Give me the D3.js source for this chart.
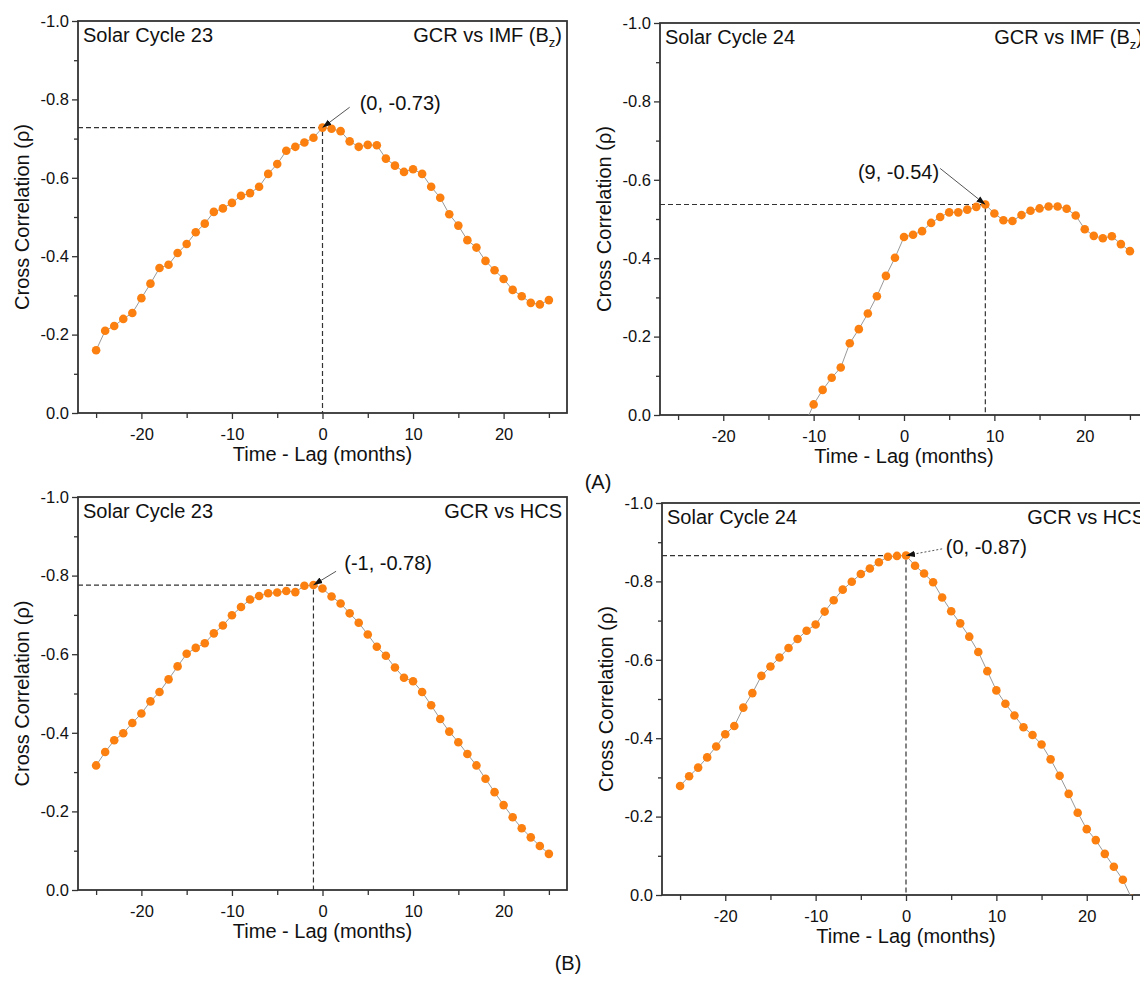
<!DOCTYPE html>
<html>
<head>
<meta charset="utf-8">
<script src="https://cdn.jsdelivr.net/npm/d3@7"></script>
<style>
  body { margin: 0; background: #fff; }
  svg text { font-family: "Liberation Sans", Arial, sans-serif; fill: #111; }
</style>
</head>
<body>
<svg id="chart" width="1140" height="982"></svg>
<script>
// Time lag (months)
let lagsFull = [-25, -24, -23, -22, -21, -20, -19, -18, -17, -16, -15, -14, -13, -12, -11, -10, -9, -8, -7, -6, -5, -4, -3, -2, -1,
  0, 1, 2, 3, 4, 5, 6, 7, 8, 9, 10, 11, 12, 13, 14, 15, 16, 17, 18, 19, 20, 21, 22, 23, 24, 25];
// cycle 24 vs IMF: everything left of -10 sits below 0 and is cut off
let lagsImf24 = [-11, -10, -9, -8, -7, -6, -5, -4, -3, -2, -1,
  0, 1, 2, 3, 4, 5, 6, 7, 8, 9, 10, 11, 12, 13, 14, 15, 16, 17, 18, 19, 20, 21, 22, 23, 24, 25];

// Cross correlation (rho)
let rhoImf23 = [-0.160, -0.210, -0.222, -0.240, -0.255, -0.293, -0.330, -0.370, -0.378, -0.408, -0.431, -0.461, -0.483,
  -0.513, -0.522, -0.536, -0.554, -0.561, -0.577, -0.610, -0.635, -0.669, -0.679, -0.690, -0.702,
  -0.728, -0.725, -0.719, -0.693, -0.679, -0.684, -0.683, -0.649, -0.631, -0.615, -0.622, -0.610, -0.577,
  -0.549, -0.507, -0.478, -0.441, -0.422, -0.388, -0.364, -0.342, -0.314, -0.298, -0.281, -0.277, -0.288];
let rhoImf24 = [0.025, -0.027, -0.064, -0.095, -0.121, -0.183, -0.219, -0.259, -0.303, -0.355, -0.401,
  -0.454, -0.460, -0.469, -0.490, -0.505, -0.517, -0.517, -0.524, -0.531, -0.537, -0.514, -0.497, -0.495,
  -0.510, -0.521, -0.527, -0.532, -0.532, -0.526, -0.509, -0.474, -0.457, -0.451, -0.456, -0.436, -0.418];
let rhoHcs23 = [-0.317, -0.351, -0.381, -0.399, -0.425, -0.449, -0.480, -0.504, -0.536, -0.569, -0.601, -0.616, -0.628,
  -0.653, -0.673, -0.699, -0.720, -0.739, -0.748, -0.755, -0.757, -0.761, -0.758, -0.774, -0.776,
  -0.767, -0.747, -0.729, -0.704, -0.680, -0.650, -0.619, -0.596, -0.566, -0.540, -0.531, -0.504, -0.470,
  -0.435, -0.403, -0.376, -0.346, -0.317, -0.283, -0.249, -0.216, -0.185, -0.157, -0.134, -0.112, -0.092];
let rhoHcs24 = [-0.278, -0.303, -0.325, -0.351, -0.379, -0.410, -0.431, -0.478, -0.515, -0.559, -0.583, -0.606, -0.630,
  -0.653, -0.674, -0.690, -0.723, -0.752, -0.779, -0.799, -0.819, -0.833, -0.849, -0.863, -0.865,
  -0.866, -0.840, -0.820, -0.798, -0.759, -0.724, -0.693, -0.659, -0.620, -0.571, -0.522, -0.488, -0.458,
  -0.428, -0.408, -0.384, -0.346, -0.304, -0.258, -0.210, -0.168, -0.140, -0.105, -0.072, -0.039, 0.010];

// Peaks and their labels
let peakLags = [0, 9, -1, 0];
let peakLabels = ["(0, -0.73)", "(9, -0.54)", "(-1, -0.78)", "(0, -0.87)"];

let cycleLabels = ["Solar Cycle 23", "Solar Cycle 24", "Solar Cycle 23", "Solar Cycle 24"];
let pairLabels = ["IMF", "IMF", "HCS", "HCS"];

// Ticks
let lagMajor = [-20, -10, 0, 10, 20];
let lagMinor = [-25, -15, -5, 5, 15, 25];
let rhoMajor = [0, -0.2, -0.4, -0.6, -0.8, -1.0];
let rhoMinor = [-0.1, -0.3, -0.5, -0.7, -0.9];

let lagSeries = [lagsFull, lagsImf24, lagsFull, lagsFull];
let rhoSeries = [rhoImf23, rhoImf24, rhoHcs23, rhoHcs24];

// layout of each panel (px) and where its peak label sits (in data units)
let layout = [
  {left: 78,  top: 21,  bottom: 413, width: 489, label: [4.1, -0.79],  arrow: [3.0, -0.78],  dotted: false},
  {left: 660, top: 23,  bottom: 415, width: 488, label: [-5.1, -0.62], arrow: [4.0, -0.629], dotted: false},
  {left: 78,  top: 497, bottom: 890, width: 489, label: [2.4, -0.833], arrow: [1.5, -0.811], dotted: false},
  {left: 662, top: 503, bottom: 895, width: 488, label: [4.4, -0.888], arrow: [4.0, -0.883], dotted: true}
];

let orange = "#fb8010";
let ink = "#333";

let svg = d3.select("#chart");

svg.append("defs").append("marker")
    .attr("id", "head")
    .attr("viewBox", "0 -4 9 8")
    .attr("refX", 9)
    .attr("refY", 0)
    .attr("markerUnits", "userSpaceOnUse")
    .attr("markerWidth", 9)
    .attr("markerHeight", 8)
    .attr("orient", "auto")
  .append("path")
    .attr("d", "M0,-3.2L9,0L0,3.2Z")
    .attr("fill", "#111");

layout.forEach((p, i) => {
  let x = d3.scaleLinear().domain([-27, 27]).range([p.left, p.left + p.width]);
  let y = d3.scaleLinear().domain([0, -1]).range([p.bottom, p.top]);
  let pts = lagSeries[i].map((t, k) => ({lag: t, rho: rhoSeries[i][k]}));
  let peak = pts.find(d => d.lag == peakLags[i]);

  let g = svg.append("g").attr("class", "panel");

  g.append("clipPath").attr("id", "clip" + i)
    .append("rect")
    .attr("x", x(-27)).attr("y", y(-1))
    .attr("width", x(27) - x(-27)).attr("height", y(0) - y(-1));

  // axes
  let xAxisMinor = g.append("g")
      .attr("transform", "translate(0," + p.bottom + ")")
      .call(d3.axisBottom(x).tickValues(lagMinor).tickSize(5).tickFormat(""));
  let xAxis = g.append("g")
      .attr("transform", "translate(0," + p.bottom + ")")
      .call(d3.axisBottom(x).tickValues(lagMajor).tickSize(6).tickPadding(9).tickFormat(d => String(d)));
  let yAxisMinor = g.append("g")
      .attr("transform", "translate(" + p.left + ",0)")
      .call(d3.axisLeft(y).tickValues(rhoMinor).tickSize(4).tickFormat(""));
  let yAxis = g.append("g")
      .attr("transform", "translate(" + p.left + ",0)")
      .call(d3.axisLeft(y).tickValues(rhoMajor).tickSize(6).tickPadding(3).tickFormat(d => d.toFixed(1)));

  [xAxisMinor, xAxis, yAxisMinor, yAxis].forEach(a => {
    a.select(".domain").remove();
    a.selectAll(".tick line").attr("stroke", ink).attr("stroke-width", 1.3);
    a.selectAll("text")
      .attr("font-size", 16.5)
      .attr("font-family", "Liberation Sans, Arial, sans-serif")
      .attr("fill", "#111");
  });

  // frame
  g.append("rect")
    .attr("x", x(-27)).attr("y", y(-1))
    .attr("width", x(27) - x(-27)).attr("height", y(0) - y(-1))
    .attr("fill", "none")
    .attr("stroke", ink)
    .attr("stroke-width", 1.8);

  // axis titles
  g.append("text")
    .attr("x", x(0)).attr("y", p.bottom + 48)
    .attr("text-anchor", "middle")
    .attr("font-size", 20)
    .text("Time - Lag (months)");
  g.append("text")
    .attr("transform", "translate(" + (p.left - 49) + "," + ((p.top + p.bottom) / 2) + ") rotate(-90)")
    .attr("text-anchor", "middle")
    .attr("font-size", 20)
    .text("Cross Correlation (\u03c1)");

  // panel labels
  g.append("text")
    .attr("x", x(-27) + 5).attr("y", y(-1) + 21)
    .attr("font-size", 20)
    .text(cycleLabels[i]);
  let pair = g.append("text")
    .attr("x", x(27) - 5).attr("y", y(-1) + 21)
    .attr("text-anchor", "end")
    .attr("font-size", 20);
  if (pairLabels[i] == "IMF") {
    pair.append("tspan").text("GCR vs IMF (B");
    pair.append("tspan").attr("font-size", 13).attr("dy", 5).text("z");
    pair.append("tspan").attr("dy", -5).text(")");
  } else {
    pair.text("GCR vs HCS");
  }

  // dashed guides to the peak
  g.append("path")
    .attr("d", "M" + x(-27) + "," + y(peak.rho) + "H" + x(peak.lag) + "V" + y(0))
    .attr("fill", "none")
    .attr("stroke", ink)
    .attr("stroke-width", 1.2)
    .attr("stroke-dasharray", "5,3");

  // series
  let plot = g.append("g").attr("clip-path", "url(#clip" + i + ")");
  plot.append("path")
    .datum(pts)
    .attr("d", d3.line().x(d => x(d.lag)).y(d => y(d.rho)))
    .attr("fill", "none")
    .attr("stroke", "#999")
    .attr("stroke-width", 1);
  plot.selectAll("circle")
    .data(pts)
    .enter().append("circle")
    .attr("cx", d => x(d.lag))
    .attr("cy", d => y(d.rho))
    .attr("r", 4.3)
    .attr("fill", orange);

  // peak annotation
  g.append("line")
    .attr("x1", x(p.arrow[0])).attr("y1", y(p.arrow[1]))
    .attr("x2", x(peak.lag)).attr("y2", y(peak.rho))
    .attr("stroke", "#555")
    .attr("stroke-width", 1)
    .attr("stroke-dasharray", p.dotted ? "2,2" : null)
    .attr("marker-end", "url(#head)");
  g.append("text")
    .attr("x", x(p.label[0])).attr("y", y(p.label[1]))
    .attr("dy", "0.35em")
    .attr("font-size", 20)
    .text(peakLabels[i]);
});

// figure part labels
svg.append("text")
  .attr("x", 598).attr("y", 489)
  .attr("text-anchor", "middle")
  .attr("font-size", 20)
  .attr("font-family", "Open Sans, sans-serif")
  .text("(A)");
svg.append("text")
  .attr("x", 568).attr("y", 970)
  .attr("text-anchor", "middle")
  .attr("font-size", 20)
  .attr("font-family", "Open Sans, sans-serif")
  .text("(B)");
</script>
</body>
</html>
